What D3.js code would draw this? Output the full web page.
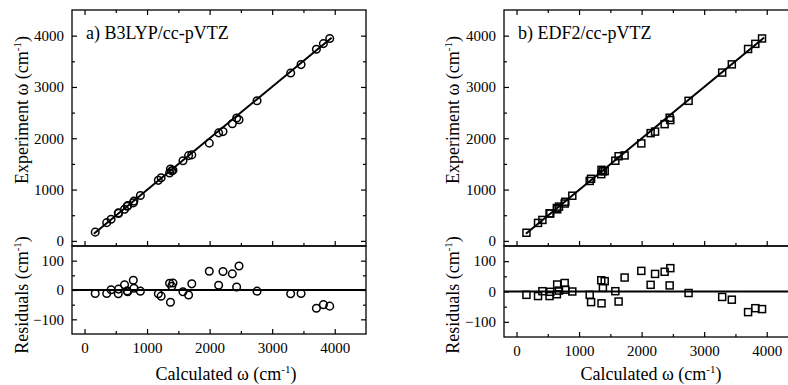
<!DOCTYPE html>
<html>
<head>
<meta charset="utf-8">
<script src="https://cdn.jsdelivr.net/npm/d3@7"></script>
<style>
  body { margin: 0; background: #fff; }
</style>
</head>
<body>
<div id="chart"></div>
<script>
// tick values
var xTicks = [0, 1000, 2000, 3000, 4000];
var xMinor = [500, 1500, 2500, 3500];
var yTicksTop = [0, 1000, 2000, 3000, 4000];
var yMinorTop = [500, 1500, 2500, 3500];
var yTicksRes = [-100, 0, 100];
var yMinorRes = [-50, 50];

// a) B3LYP/cc-pVTZ
var b3lypCalc = [171, 355, 425, 540, 544, 640, 683, 690, 780, 790, 893, 1180, 1225, 1360, 1414, 1374,
  1395, 1574, 1664, 1715, 1995, 2144, 2214, 2363, 2470, 2432, 2758, 3296, 3462, 3707, 3819, 3920];
var b3lypExpt = [170, 355, 420, 545, 535, 615, 676, 686, 740, 775, 885, 1180, 1230, 1322, 1375, 1400,
  1366, 1562, 1662, 1676, 1905, 2105, 2130, 2282, 2360, 2395, 2730, 3272, 3436, 3735, 3845, 3945];
var b3lypResid = [-12, -12, 1, -13, 3, 18, -3, -6, 33, 6, -4, -13, -21, 23, 24, -42,
  13, -6, -17, 21, 64, 16, 63, 55, 82, 10, -4, -13, -12, -62, -50, -55];

// b) EDF2/cc-pVTZ
var edf2Calc = [159, 344, 414, 528, 540, 645, 650, 679, 770, 780, 892, 1170, 1192, 1355, 1410, 1381,
  1359, 1580, 1632, 1728, 1995, 2144, 2215, 2368, 2459, 2448, 2751, 3288, 3442, 3702, 3818, 3925];
var edf2Expt = [158, 350, 408, 535, 535, 640, 615, 668, 728, 762, 880, 1168, 1210, 1300, 1360, 1355,
  1385, 1562, 1650, 1665, 1900, 2100, 2130, 2275, 2355, 2400, 2730, 3280, 3440, 3740, 3840, 3945];
var edf2Resid = [-11, -15, 1, -15, -1, -9, 23, 3, 28, 6, 0, -11, -35, 37, 34, 12,
  -39, 1, -33, 46, 68, 22, 58, 65, 77, 20, -5, -18, -27, -68, -55, -58];

// fit lines
var fitAx = [150, 3950], fitAy = [140, 3960];
var fitBx = [150, 3960], fitBy = [140, 3965];

var FONT = "'Liberation Serif', 'Times New Roman', Times, serif";

var width = 788, height = 385;
var svg = d3.select("#chart").append("svg")
  .attr("width", width)
  .attr("height", height);

function sup(sel, pre, post) {
  sel.append("tspan").text(pre);
  sel.append("tspan").attr("font-size", 11).attr("dy", -7).text("-1");
  sel.append("tspan").attr("dy", 7).text(post);
}

function drawPanel(opt) {
  var x0 = opt.left, x1 = opt.left + 294;
  var top = 10, mid = 246, bot = opt.resBottom;

  var x = d3.scaleLinear().domain([-200, 4500]).range([x0, x1]);
  var yTop = d3.scaleLinear().domain([-100, 4500]).range([mid, top]);
  var yRes = d3.scaleLinear().domain([-150, 150]).range([bot, mid]);

  var g = svg.append("g");

  function ax(gen, tr, vals, size, labels) {
    var a = g.append("g")
      .attr("transform", tr)
      .call(gen.tickValues(vals).tickSize(size).tickPadding(8)
        .tickFormat(labels ? d3.format("d") : ""));
    a.attr("font-family", null).attr("font-size", null);
    a.select(".domain").remove();
    a.selectAll("line").attr("stroke", "#000").attr("stroke-width", 1.2);
    a.selectAll("text").style("font-size", "15px").style("font-family", FONT).attr("fill", "#000");
  }

  // top panel ticks
  ax(d3.axisLeft(yTop), "translate(" + x0 + ",0)", yTicksTop, -5, true);
  ax(d3.axisLeft(yTop), "translate(" + x0 + ",0)", yMinorTop, -3, false);
  ax(d3.axisRight(yTop), "translate(" + x1 + ",0)", yTicksTop, -5, false);
  ax(d3.axisRight(yTop), "translate(" + x1 + ",0)", yMinorTop, -3, false);
  ax(d3.axisTop(x), "translate(0," + top + ")", xTicks, -5, false);
  ax(d3.axisTop(x), "translate(0," + top + ")", xMinor, -3, false);
  ax(d3.axisBottom(x), "translate(0," + mid + ")", xTicks, -5, false);
  ax(d3.axisBottom(x), "translate(0," + mid + ")", xMinor, -3, false);

  // residual panel ticks
  ax(d3.axisLeft(yRes), "translate(" + x0 + ",0)", yTicksRes, -5, true);
  ax(d3.axisLeft(yRes), "translate(" + x0 + ",0)", yMinorRes, -3, false);
  ax(d3.axisRight(yRes), "translate(" + x1 + ",0)", yTicksRes, -5, false);
  ax(d3.axisRight(yRes), "translate(" + x1 + ",0)", yMinorRes, -3, false);
  ax(d3.axisBottom(x), "translate(0," + bot + ")", xTicks, -5, true);
  ax(d3.axisBottom(x), "translate(0," + bot + ")", xMinor, -3, false);

  // frames
  g.append("rect").attr("x", x0).attr("y", top).attr("width", x1 - x0).attr("height", mid - top)
    .attr("fill", "none").attr("stroke", "#000").attr("stroke-width", 1.3);
  g.append("rect").attr("x", x0).attr("y", mid).attr("width", x1 - x0).attr("height", bot - mid)
    .attr("fill", "none").attr("stroke", "#000").attr("stroke-width", 1.3);

  // fit line
  g.append("line")
    .attr("x1", x(opt.fitX[0])).attr("y1", yTop(opt.fitY[0]))
    .attr("x2", x(opt.fitX[1])).attr("y2", yTop(opt.fitY[1]))
    .attr("stroke", "#000").attr("stroke-width", 2);

  // zero line
  g.append("line")
    .attr("x1", x(-200)).attr("x2", x(4500))
    .attr("y1", yRes(0)).attr("y2", yRes(0))
    .attr("stroke", "#000").attr("stroke-width", 2);

  var top_pts = opt.calc.map(function (c, i) { return [c, opt.expt[i]]; });
  var res_pts = opt.calc.map(function (c, i) { return [c, opt.resid[i]]; });

  function marks(pts, yScale) {
    if (opt.shape === "circle") {
      g.selectAll(null).data(pts).enter().append("circle")
        .attr("cx", function (d) { return x(d[0]); })
        .attr("cy", function (d) { return yScale(d[1]); })
        .attr("r", 3.8)
        .attr("fill", "none").attr("stroke", "#000").attr("stroke-width", 1.5);
    } else {
      g.selectAll(null).data(pts).enter().append("rect")
        .attr("x", function (d) { return x(d[0]) - 3.5; })
        .attr("y", function (d) { return yScale(d[1]) - 3.5; })
        .attr("width", 7).attr("height", 7)
        .attr("fill", "none").attr("stroke", "#000").attr("stroke-width", 1.5);
    }
  }
  marks(top_pts, yTop);
  marks(res_pts, yRes);

  // labels
  function label(sel) {
    return sel.style("font-family", FONT).style("font-size", "18px").attr("fill", "#000");
  }
  label(g.append("text")).attr("x", x0 + 14).attr("y", 39).text(opt.title);

  label(g.append("text")).attr("text-anchor", "middle")
    .attr("transform", "translate(" + opt.yTitleX + ",110) rotate(-90)")
    .call(sup, "Experiment \u03c9 (cm", ")");
  label(g.append("text")).attr("text-anchor", "middle")
    .attr("transform", "translate(" + opt.yTitleX + ",295) rotate(-90)")
    .call(sup, "Residuals (cm", ")");
  label(g.append("text")).attr("text-anchor", "middle")
    .attr("x", opt.xTitleX).attr("y", 380)
    .call(sup, "Calculated \u03c9 (cm", ")");
}

drawPanel({
  left: 72, resBottom: 334, shape: "circle", title: "a) B3LYP/cc-pVTZ",
  calc: b3lypCalc, expt: b3lypExpt, resid: b3lypResid, fitX: fitAx, fitY: fitAy,
  yTitleX: 28, xTitleX: 226
});
drawPanel({
  left: 504, resBottom: 337, shape: "square", title: "b) EDF2/cc-pVTZ",
  calc: edf2Calc, expt: edf2Expt, resid: edf2Resid, fitX: fitBx, fitY: fitBy,
  yTitleX: 459, xTitleX: 651
});
</script>
</body>
</html>
